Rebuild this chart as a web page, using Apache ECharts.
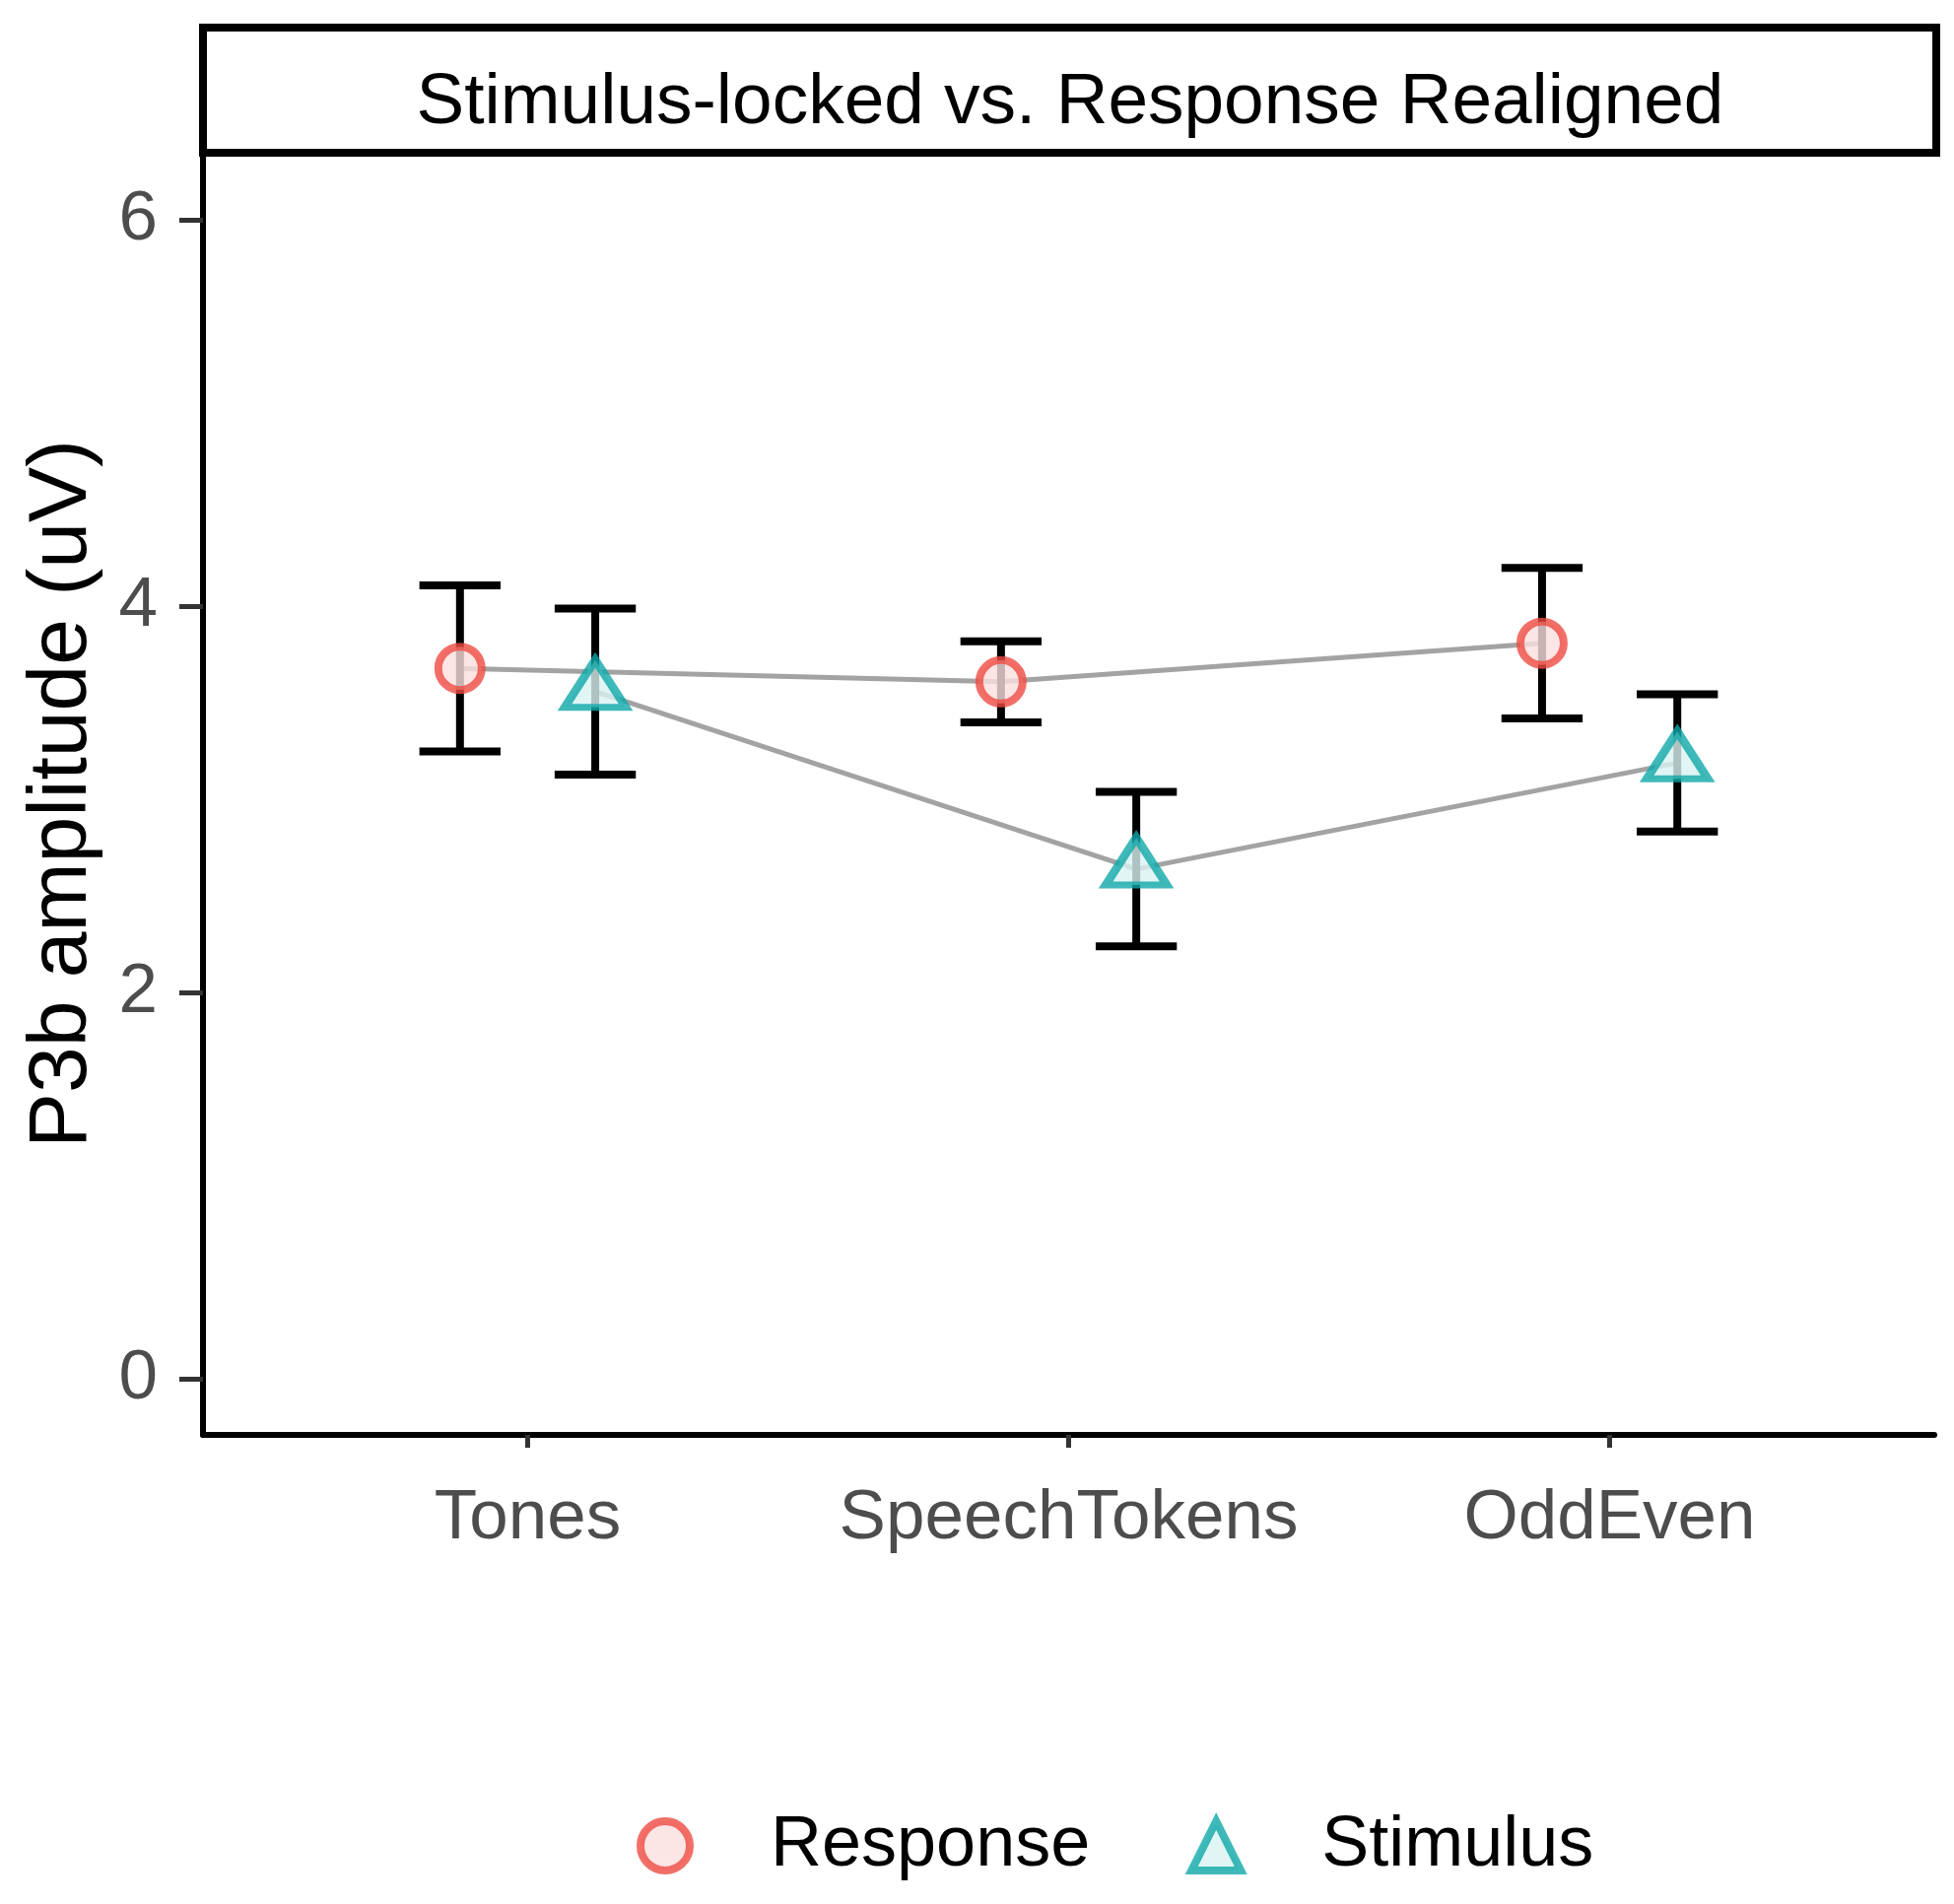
<!DOCTYPE html>
<html>
<head>
<meta charset="utf-8">
<script src="https://cdn.jsdelivr.net/npm/echarts@6/dist/echarts.min.js"></script>
<style>
html,body{margin:0;padding:0;background:#fff;}
#chart{width:1983px;height:1932px;}
</style>
</head>
<body>
<div id="chart"></div>
<script>
// ---- data ----
const categories = ['Tones', 'SpeechTokens', 'OddEven'];
const groups = ['Response', 'Stimulus'];
const responseMean = [3.68, 3.61, 3.81];
const responseSE = [0.43, 0.21, 0.39];
const stimulusMean = [3.56, 2.64, 3.19];
const stimulusSE = [0.43, 0.40, 0.355];
const yTicks = [0, 2, 4, 6];
const panelTitle = 'Stimulus-locked vs. Response Realigned';
const yTitle = 'P3b amplitude (uV)';

// ---- build ----
const dodge = 0.125;
const capWidth = 0.15;
const catPos = categories.map((c, i) => i + 1);
function pts(mean, se, off) {
  return mean.map((m, i) => [catPos[i] + off, m, se[i]]);
}
const respPts = pts(responseMean, responseSE, -dodge);
const stimPts = pts(stimulusMean, stimulusSE, dodge);

const FONT = 'Liberation Sans, Arial, sans-serif';
const respStyle = { color: '#FBE0DF', borderColor: '#EE4B42', borderWidth: 8 };
const stimStyle = { color: '#D9F2F2', borderColor: '#0FA7A7', borderWidth: 8 };

function errRender(params, api) {
  const x = api.value(0), y = api.value(1), e = api.value(2);
  const top = api.coord([x, y + e]);
  const bot = api.coord([x, y - e]);
  const half = api.size([capWidth, 0])[0] / 2;
  const st = { stroke: '#000', lineWidth: 8 };
  return {
    type: 'group',
    children: [
      { type: 'line', shape: { x1: top[0], y1: top[1], x2: bot[0], y2: bot[1] }, style: st },
      { type: 'line', shape: { x1: top[0] - half, y1: top[1], x2: top[0] + half, y2: top[1] }, style: st },
      { type: 'line', shape: { x1: bot[0] - half, y1: bot[1], x2: bot[0] + half, y2: bot[1] }, style: st }
    ]
  };
}

const chart = echarts.init(document.getElementById('chart'), null, { renderer: 'canvas' });
chart.setOption({
  backgroundColor: '#fff',
  animation: false,
  textStyle: { fontFamily: FONT },
  grid: { left: 206, right: 20, top: 155, bottom: 476, containLabel: false },
  graphic: [
    {
      type: 'rect',
      shape: { x: 206, y: 28, width: 1759, height: 127 },
      style: { fill: '#fff', stroke: '#000', lineWidth: 8 },
      z: 10
    },
    {
      type: 'text',
      x: 1086, y: 105,
      style: {
        text: panelTitle,
        font: '73px ' + FONT,
        fill: '#000',
        align: 'center',
        verticalAlign: 'middle'
      },
      z: 11
    }
  ],
  legend: {
    data: [
      { name: groups[0], itemStyle: respStyle },
      { name: groups[1], itemStyle: stimStyle }
    ],
    left: 641,
    top: 1832,
    itemWidth: 50,
    itemHeight: 50,
    itemGap: 99,
    textStyle: { fontSize: 72, color: '#000', fontFamily: FONT, padding: [0, 0, 0, 77] },
    selectedMode: false
  },
  xAxis: {
    type: 'value',
    min: 0.4,
    max: 3.6,
    splitLine: { show: false },
    axisLine: { show: true, onZero: false, lineStyle: { color: '#000', width: 6 } },
    axisTick: { show: true, customValues: catPos, length: 13, lineStyle: { color: '#333', width: 5 } },
    axisLabel: {
      customValues: catPos,
      margin: 50,
      fontSize: 71,
      color: '#4D4D4D',
      fontFamily: FONT,
      formatter: v => categories[Math.round(v) - 1] || ''
    }
  },
  yAxis: {
    type: 'value',
    min: -0.29,
    max: 6.35,
    name: yTitle,
    nameLocation: 'middle',
    nameGap: 100,
    nameTextStyle: { fontSize: 84, color: '#000', fontFamily: FONT },
    splitLine: { show: false },
    axisLine: { show: true, onZero: false, lineStyle: { color: '#000', width: 6 } },
    axisTick: { show: true, customValues: yTicks, length: 24, lineStyle: { color: '#333', width: 5 } },
    axisLabel: { customValues: yTicks, margin: 46, fontSize: 71, color: '#4D4D4D', fontFamily: FONT, padding: [14, 0, 0, 0] }
  },
  series: [
    {
      name: 'ResponseLine', type: 'line', data: respPts.map(p => [p[0], p[1]]),
      showSymbol: false, symbol: 'none', lineStyle: { color: '#A3A3A3', width: 5 }, z: 1, silent: true
    },
    {
      name: 'StimulusLine', type: 'line', data: stimPts.map(p => [p[0], p[1]]),
      showSymbol: false, symbol: 'none', lineStyle: { color: '#A3A3A3', width: 5 }, z: 1, silent: true
    },
    {
      name: 'ResponseErr', type: 'custom', renderItem: errRender, data: respPts, z: 2, silent: true,
      encode: { x: 0, y: [1] }
    },
    {
      name: 'StimulusErr', type: 'custom', renderItem: errRender, data: stimPts, z: 2, silent: true,
      encode: { x: 0, y: [1] }
    },
    {
      name: 'Response', type: 'scatter', data: respPts.map(p => [p[0], p[1]]),
      symbol: 'circle', symbolSize: 44, itemStyle: respStyle, z: 3
    },
    {
      name: 'Stimulus', type: 'scatter', data: stimPts.map(p => [p[0], p[1]]),
      symbol: 'triangle', symbolSize: [62, 48], symbolOffset: [0, -8], itemStyle: stimStyle, z: 3
    }
  ]
});
</script>
</body>
</html>
